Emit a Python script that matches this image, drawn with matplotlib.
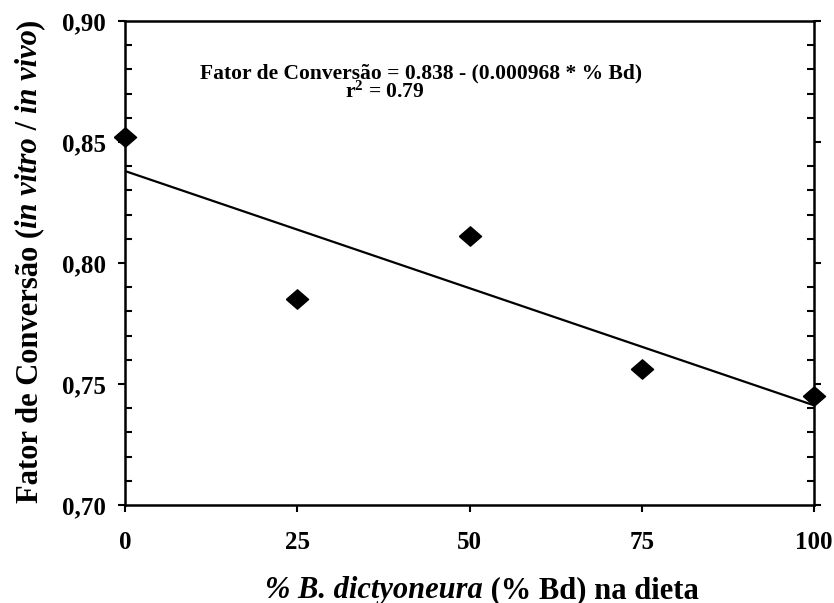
import matplotlib
matplotlib.use("Agg")
import matplotlib.pyplot as plt
from matplotlib.ticker import MultipleLocator
from matplotlib.transforms import Bbox

# Fator de conversão (in vitro / in vivo) por nível de B. dictyoneura
bd_level = [0, 25, 50, 75, 100]
fator = [0.852, 0.785, 0.811, 0.756, 0.745]

# regressão linear ajustada
intercept = 0.838
slope = -0.000968
r2 = 0.79

x_ticks = [0, 25, 50, 75, 100]
y_ticks = [0.70, 0.75, 0.80, 0.85, 0.90]
y_tick_labels = ["0,70", "0,75", "0,80", "0,85", "0,90"]

x_label_parts = [("% B. dictyoneura", "italic"), (" (% Bd) na dieta", "normal")]
y_label_parts = [("Fator de Conversão (", "normal"), ("in vitro", "italic"),
                 (" / ", "normal"), ("in vivo", "italic"), (")", "normal")]

plt.rcParams["font.family"] = "Liberation Serif"
plt.rcParams["font.weight"] = "bold"
plt.rcParams["mathtext.fontset"] = "custom"
plt.rcParams["mathtext.rm"] = "Liberation Serif:bold"
plt.rcParams["mathtext.bf"] = "Liberation Serif:bold"
plt.rcParams["mathtext.it"] = "Liberation Serif:italic:bold"
plt.rcParams["mathtext.default"] = "bf"

fig = plt.figure(figsize=(8.34, 6.03), dpi=100)
ax = fig.add_axes([0.1499, 0.1625, 0.8261, 0.8027])


def rich_label(pieces, base, center, vertical, size):
    """Chain text pieces with mixed styles, then centre them along the line."""
    rot = 90 if vertical else 0
    texts = []
    for i, (s, style) in enumerate(pieces):
        kw = dict(fontsize=size, fontweight="bold", fontstyle=style,
                  rotation=rot, annotation_clip=False)
        if i == 0:
            xy = (base, 0) if vertical else (0, base)
            t = ax.annotate(s, xy=xy, xycoords="figure pixels", ha="left",
                            va="baseline", rotation_mode="anchor", **kw)
        else:
            xy = (0, 1) if vertical else (1, 0)
            t = ax.annotate(s, xy=xy, xycoords=texts[-1], ha="left",
                            va="bottom", **kw)
        texts.append(t)
    fig.canvas.draw()
    renderer = fig.canvas.get_renderer()
    box = Bbox.union([t.get_window_extent(renderer) for t in texts])
    if vertical:
        shift = center - (box.y0 + box.y1) / 2
        texts[0].xyann = (base, shift)
    else:
        shift = center - (box.x0 + box.x1) / 2
        texts[0].xyann = (shift, base)
    return texts


line_x = [x_ticks[0], x_ticks[-1]]
line_y = [intercept + slope * v for v in line_x]
ax.plot(line_x, line_y, color="black", lw=1.6, zorder=2)

diamond = [(-1, 0), (0, 0.87), (1, 0), (0, -0.87), (-1, 0)]
ax.plot(bd_level, fator, linestyle="none", marker=diamond, ms=16,
        color="black", clip_on=False, zorder=3)

ax.set_xlim(0, 100)
ax.set_ylim(0.70, 0.90)
ax.set_xticks(x_ticks)
ax.set_yticks(y_ticks)
ax.set_yticklabels(y_tick_labels)
ax.yaxis.set_minor_locator(MultipleLocator(0.01))

for side in ["left", "right", "top", "bottom"]:
    ax.spines[side].set_linewidth(1.8)

ax.tick_params(axis="both", which="major", direction="out", length=5,
               width=1.5, labelsize=18)
ax.tick_params(axis="x", pad=14)
ax.tick_params(axis="y", pad=9)
ax.tick_params(axis="y", which="major", right=True)
ax.tick_params(axis="y", which="minor", direction="in", length=5,
               width=1.5, left=True, right=True)

# equação da reta e coeficiente de determinação
ax.text(0.4296, 0.882, "Fator de Conversão = 0.838 - (0.000968 * % Bd)",
        transform=ax.transAxes, ha="center", va="baseline",
        fontsize=15.5, fontweight="bold")
ax.text(0.3774, 0.841, r"r$^{2}$ = " + f"{r2:.2f}",
        transform=ax.transAxes, ha="center", va="baseline",
        fontsize=15.5, fontweight="bold")

# rótulos dos eixos com partes em itálico
rich_label(x_label_parts, base=5, center=482, vertical=False, size=22)
rich_label(y_label_parts, base=37, center=342, vertical=True, size=22)

fig.savefig("out.png", dpi=100)
